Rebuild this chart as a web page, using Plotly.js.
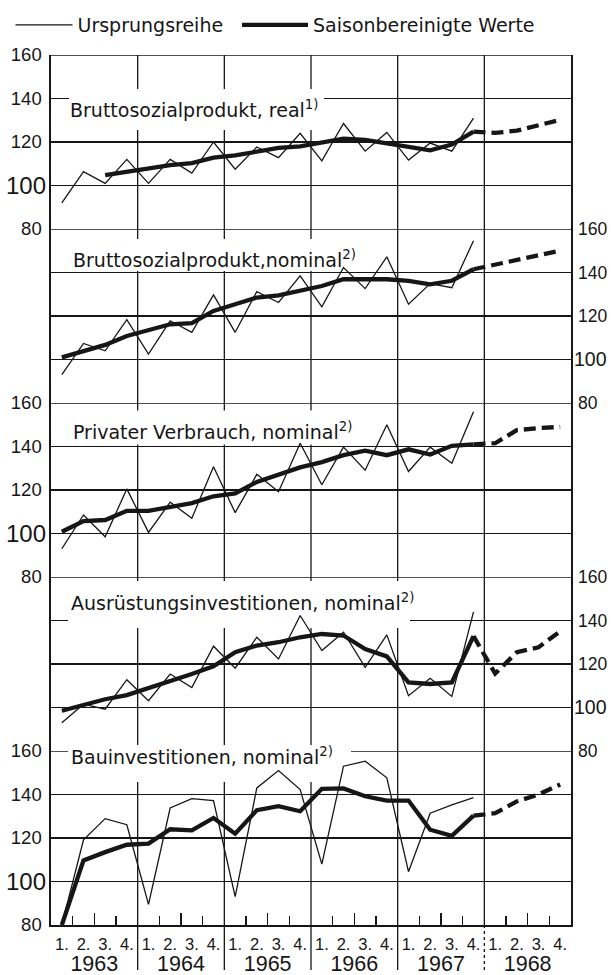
<!DOCTYPE html>
<html>
<head>
<meta charset="utf-8">
<script src="https://cdn.plot.ly/plotly-3.0.1.min.js"></script>
<style>
html,body{margin:0;padding:0;background:#ffffff;}
#chart{width:611px;height:975px;}
</style>
</head>
<body>
<div id="chart"></div>
<script>
// ---------------- data ----------------
const years = [1963, 1964, 1965, 1966, 1967, 1968];
const quarterLabels = ["1.", "2.", "3.", "4."];
const seriesNames = ["Ursprungsreihe", "Saisonbereinigte Werte"];
const panelTitles = [
  "Bruttosozialprodukt, real<sup>1)</sup>",
  "Bruttosozialprodukt,nominal<sup>2)</sup>",
  "Privater Verbrauch, nominal<sup>2)</sup>",
  "Ausrüstungsinvestitionen, nominal<sup>2)</sup>",
  "Bauinvestitionen, nominal<sup>2)</sup>"
];
const yTickValues = [80, 120, 140, 160];
const baseTickValue = [100];

// 1963 Q1 ... 1967 Q4
const raw1 = [92, 106.4, 101, 112, 101, 112, 105.7, 120, 107.5, 117.7, 112.8, 124, 111.3, 128.5, 115.8, 124.4, 111.7, 119.5, 115.8, 131];
const adj1 = [null, null, 104.8, 106.3, 107.8, 109.4, 110.3, 112.8, 113.8, 115.8, 117.3, 118, 120, 121.5, 121, 119.5, 117.7, 116.2, 118.8, 124.8];
// 1967 Q4 ... 1968 Q4
const fc1 = [124.8, 124.2, 125.2, 127.6, 130.2];

const raw2 = [93, 107.4, 104, 118.3, 102.5, 117.8, 112.5, 129.7, 112.5, 131.2, 126.2, 138.5, 124.2, 142.3, 132.6, 147.2, 125.4, 134.9, 133, 154.6];
const adj2 = [101, 104, 106.7, 110.8, 113.7, 116.2, 116.7, 122.3, 125.4, 128.5, 129.5, 131.8, 133.8, 136.9, 136.9, 136.9, 136.2, 134.6, 136.2, 141.5];
const fc2 = [141.5, 143.5, 145.5, 148, 150];

const raw3 = [93, 108.5, 98.5, 120.5, 100.5, 114.4, 107, 130.7, 109.6, 127.2, 119.2, 141.5, 122.4, 139.7, 129.1, 150, 128.5, 139.7, 132.3, 156];
const adj3 = [100.8, 105.7, 106.2, 110.4, 110.4, 112.4, 114, 117.1, 118.4, 123.7, 127.2, 130.4, 132.8, 136, 138.1, 136, 138.7, 136.3, 140.3, 141];
const fc3 = [141, 141.5, 147.5, 148.5, 149];

const raw4 = [93, 101.5, 99.2, 112.8, 103.1, 115.4, 109.2, 128.2, 118.1, 132.3, 122.3, 142.3, 126.2, 134.6, 118.5, 133.4, 105.4, 113.4, 105.1, 144];
const adj4 = [98.5, 101.2, 103.8, 105.7, 108.8, 112.3, 115.4, 118.9, 125.4, 128.5, 130, 132.3, 133.8, 133.1, 126.9, 123.5, 111.5, 110.8, 111.5, 132.8];
const fc4 = [132.8, 115.6, 125.4, 127.7, 135];

const raw5 = [80, 119.2, 128.9, 126.1, 89.5, 133.8, 138.1, 137.2, 93, 143, 151, 142.3, 108, 153, 155.3, 147.7, 104.5, 131.4, 135.2, 138.6];
const adj5 = [80, 109.7, 113.5, 116.9, 117.4, 124, 123.5, 129.2, 122, 132.8, 134.6, 132.3, 142.6, 142.8, 139.2, 137.2, 137.2, 123.8, 121, 130.3];
const fc5 = [130.3, 131.4, 136.8, 140, 144.6];

// ---------------- styling / layout helpers ----------------
const ink = '#161616';
const numFont = 'Liberation Sans, Arial, sans-serif';
const txtFont = 'DejaVu Sans, Verdana, sans-serif';
const plotBox = {l: 51, t: 55, w: 520, h: 870};
const panelCount = 5;
const panelPx = plotBox.h / panelCount;
const sides = ['left', 'right', 'left', 'right', 'left'];
// title text placement (page px: left edge of text, vertical centre of capitals)
const titleText = [
  {left: 70, mid: 108},
  {left: 73, mid: 258},
  {left: 73, mid: 430},
  {left: 71, mid: 600.5},
  {left: 71, mid: 755}
];
// white cards behind the titles, which break the grid (page px)
const titleCards = [
  [{p: 0, x0: 69, x1: 324, y0: 89, y1: 130}],
  [{p: 1, x0: 71, x1: 375, y0: 239, y1: 271}],
  [{p: 2, x0: 71, x1: 366, y0: 410.5, y1: 444.5}],
  [{p: 3, x0: 68, x1: 410, y0: 581, y1: 628}],
  [{p: 3, x0: 68, x1: 351, y0: 745, y1: 752}, {p: 4, x0: 68, x1: 351, y0: 749, y1: 782}]
];

const panelData = [
  {raw: raw1, adj: adj1, fc: fc1},
  {raw: raw2, adj: adj2, fc: fc2},
  {raw: raw3, adj: adj3, fc: fc3},
  {raw: raw4, adj: adj4, fc: fc4},
  {raw: raw5, adj: adj5, fc: fc5}
];

const yId = p => (p === 0 ? 'y' : 'y' + (p + 1));
const yKey = p => (p === 0 ? 'yaxis' : 'yaxis' + (p + 1));
const yBaseId = p => 'y' + (panelCount + 1 + p);
const yBaseKey = p => 'yaxis' + (panelCount + 1 + p);
const bottomY = yId(panelCount - 1);

const nQuarters = years.length * 4;
const quarterPx = plotBox.w / nQuarters;
const quarterPos = [];
const quarterText = [];
years.forEach((yr, yi) => quarterLabels.forEach((q, qi) => { quarterPos.push(yi * 4 + qi); quarterText.push(q); }));
const yearCenters = years.map((yr, yi) => yi * 4 + 1.5);
const sideBounds = [];
years.forEach((yr, yi) => { sideBounds.push(yi * 4 + 0.5, yi * 4 + 2.5); });
const yearBounds = years.slice(1).map((yr, k) => (k + 1) * 4 - 0.5);
const xRange = [-0.5, nQuarters - 0.5];

// page px -> axis units (for decoration only)
const pxToX = px => (px - plotBox.l) / quarterPx - 0.5;
const pxToY = (py, p) => 160 - (py - (plotBox.t + p * panelPx)) / panelPx * 80;

// ---------------- traces ----------------
const traces = [];
panelData.forEach((pd, p) => {
  const xObs = pd.raw.map((v, i) => i);
  const xFc = pd.fc.map((v, i) => pd.raw.length - 1 + i);
  traces.push({
    type: 'scatter', mode: 'lines', x: xObs, y: pd.raw, xaxis: 'x', yaxis: yId(p),
    name: seriesNames[0], legend: 'legend', legendgroup: 'raw', showlegend: p === 0,
    line: {color: ink, width: 1.3}, hoverinfo: 'skip'
  });
  traces.push({
    type: 'scatter', mode: 'lines', x: xObs, y: pd.adj, xaxis: 'x', yaxis: yId(p),
    name: seriesNames[1], legend: 'legend2', legendgroup: 'adj', showlegend: p === 0,
    line: {color: ink, width: 4.3}, connectgaps: false, hoverinfo: 'skip'
  });
  traces.push({
    type: 'scatter', mode: 'lines', x: xFc, y: pd.fc, xaxis: 'x', yaxis: yId(p),
    name: seriesNames[1], legend: 'legend2', legendgroup: 'adj', showlegend: false,
    line: {color: ink, width: 4.3, dash: '12px,6px'}, hoverinfo: 'skip'
  });
  // carrier for the overlay axis that shows the larger "100"
  traces.push({type: 'scatter', mode: 'lines', x: [], y: [], xaxis: 'x', yaxis: yBaseId(p), showlegend: false, hoverinfo: 'skip'});
});
// carriers for the extra x axes (year labels, quarter ticks)
traces.push({type: 'scatter', mode: 'lines', x: [], y: [], xaxis: 'x2', yaxis: bottomY, showlegend: false, hoverinfo: 'skip'});
traces.push({type: 'scatter', mode: 'lines', x: [], y: [], xaxis: 'x3', yaxis: bottomY, showlegend: false, hoverinfo: 'skip'});

// ---------------- layout ----------------
const legendBase = {
  orientation: 'h', xref: 'container', yref: 'container',
  y: 1 - 6 / 975, xanchor: 'left', yanchor: 'top',
  font: {family: txtFont, size: 19, color: ink},
  bgcolor: 'rgba(0,0,0,0)', borderwidth: 0
};
const layout = {
  width: 611, height: 975,
  margin: {l: plotBox.l, r: 611 - plotBox.l - plotBox.w, t: plotBox.t, b: 975 - plotBox.t - plotBox.h, autoexpand: false},
  paper_bgcolor: '#ffffff', plot_bgcolor: '#ffffff',
  font: {family: txtFont, size: 19, color: ink},
  hovermode: false,
  showlegend: true,
  legend: Object.assign({}, legendBase, {x: 10.5 / 611, itemwidth: 57}),
  legend2: Object.assign({}, legendBase, {x: 237 / 611, itemwidth: 66}),
  xaxis: {
    range: xRange, domain: [0, 1], anchor: bottomY,
    tickmode: 'array', tickvals: quarterPos, ticktext: quarterText,
    ticks: '', showgrid: false, zeroline: false,
    showline: true, linecolor: ink, linewidth: 1.6,
    tickfont: {family: numFont, size: 16.5, color: ink},
    ticklabelstandoff: 4
  },
  xaxis2: {
    range: xRange, overlaying: 'x', anchor: bottomY, side: 'bottom',
    tickmode: 'array', tickvals: yearCenters, ticktext: years.map(String),
    ticks: 'inside', ticklen: 12, tickwidth: 1.5, tickcolor: ink,
    showgrid: false, zeroline: false, showline: false,
    tickfont: {family: numFont, size: 21.5, color: ink},
    ticklabelstandoff: 23
  },
  xaxis3: {
    range: xRange, overlaying: 'x', anchor: bottomY, side: 'bottom',
    tickmode: 'array', tickvals: sideBounds,
    ticks: 'inside', ticklen: 9, tickwidth: 1.5, tickcolor: ink,
    showticklabels: false, showgrid: false, zeroline: false, showline: false
  },
  shapes: [],
  annotations: []
};

for (let p = 0; p < panelCount; p++) {
  const isRight = sides[p] === 'right';
  const common = {
    range: [80, 160], anchor: 'x', side: sides[p],
    ticks: '', showgrid: true, gridcolor: ink, gridwidth: 1.3, zeroline: false,
    ticklabelstandoff: isRight ? 2 : 4
  };
  layout[yKey(p)] = Object.assign({}, common, {
    domain: [1 - (p + 1) / panelCount, 1 - p / panelCount],
    tickmode: 'array', tickvals: yTickValues, ticktext: yTickValues.map(String),
    showline: true, mirror: true, linecolor: ink, linewidth: 1.6,
    tickfont: {family: numFont, size: isRight ? 17.5 : 18.5, color: ink}
  });
  // the base value 100 is printed larger
  layout[yBaseKey(p)] = Object.assign({}, common, {
    overlaying: yId(p),
    tickmode: 'array', tickvals: baseTickValue, ticktext: baseTickValue.map(String),
    showline: false,
    tickfont: {family: numFont, size: isRight ? 19.5 : 24, color: ink}
  });
  // panel top frame line (160)
  layout.shapes.push({
    type: 'line', layer: 'between', xref: 'paper', x0: 0, x1: 1,
    yref: yId(p), y0: 160, y1: 160, line: {color: ink, width: 1.3}
  });
}

// year separators, running down into the label band
const belowAxis = -(970 - (plotBox.t + plotBox.h)) / plotBox.h;
yearBounds.forEach((xb, k) => {
  const last = k === yearBounds.length - 1;
  layout.shapes.push({
    type: 'line', layer: 'below', xref: 'x', yref: 'paper',
    x0: xb, x1: xb, y0: last ? 0 : belowAxis, y1: 1,
    line: {color: ink, width: 1.3}
  });
  if (last) {
    layout.shapes.push({
      type: 'line', layer: 'below', xref: 'x', yref: 'paper',
      x0: xb, x1: xb, y0: belowAxis, y1: 0,
      line: {color: ink, width: 1.3, dash: 'dot'}
    });
  }
});

// white cards (above grid, below the data lines) and the title texts
titleCards.forEach(cards => cards.forEach(c => {
  layout.shapes.push({
    type: 'rect', layer: 'between', xref: 'x', yref: yId(c.p),
    x0: pxToX(c.x0), x1: pxToX(c.x1), y0: pxToY(c.y1, c.p), y1: pxToY(c.y0, c.p),
    fillcolor: '#ffffff', line: {width: 0}
  });
}));
titleText.forEach((t, p) => {
  layout.annotations.push({
    xref: 'paper', yref: 'paper',
    x: (t.left - 1 - plotBox.l) / plotBox.w,
    y: 1 - (t.mid - 12 - plotBox.t) / plotBox.h,
    xanchor: 'left', yanchor: 'top', align: 'left',
    text: panelTitles[p], showarrow: false, borderpad: 0,
    font: {family: txtFont, size: 19, color: ink}
  });
});

Plotly.newPlot('chart', traces, layout, {staticPlot: true, displayModeBar: false});
</script>
</body>
</html>
